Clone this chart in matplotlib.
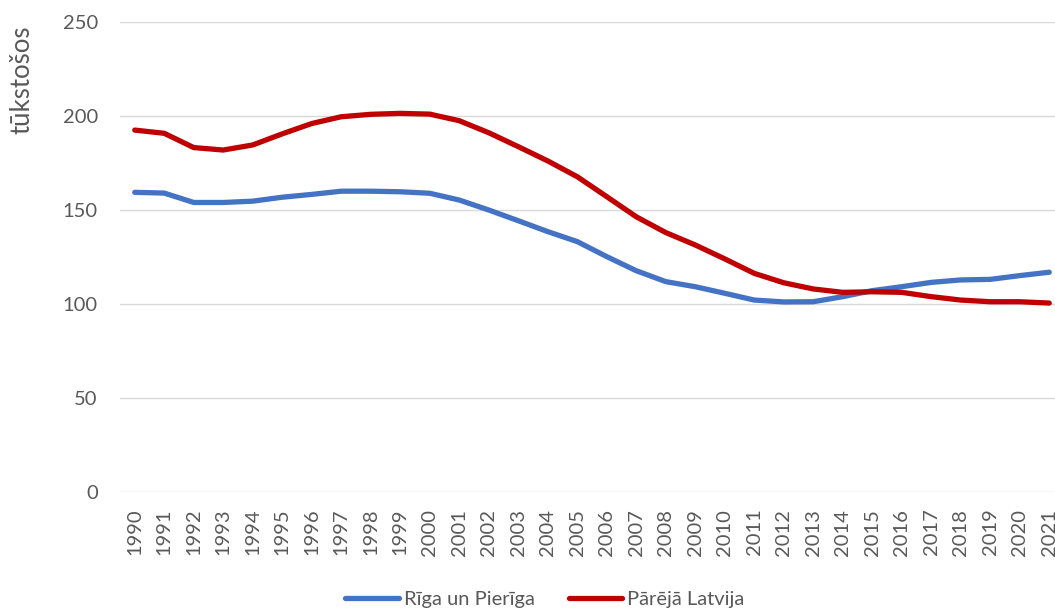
import numpy as np
import matplotlib
matplotlib.use("Agg")
import matplotlib.pyplot as plt

plt.rcParams['font.family'] = ['Lato', 'DejaVu Sans']

years = list(range(1990, 2022))
riga = [159.4, 159.0, 154.0, 154.0, 154.7, 156.8, 158.3, 160.0, 160.0, 159.7,
        158.9, 155.3, 150.0, 144.3, 138.5, 133.2, 125.2, 117.7, 111.9, 109.2,
        105.7, 102.1, 101.1, 101.2, 103.9, 107.1, 109.2, 111.5, 112.8, 113.1,
        115.1, 116.9]
parejā = [192.5, 190.8, 183.2, 181.9, 184.6, 190.5, 196.0, 199.6, 200.9, 201.4,
          201.0, 197.5, 191.1, 183.7, 176.1, 167.7, 157.1, 146.4, 138.0, 131.4,
          124.0, 116.3, 111.3, 108.0, 106.2, 106.5, 106.2, 103.9, 102.1, 101.2,
          101.2, 100.5]
labels = ['Rīga un Pierīga', 'Pārējā Latvija']

W, H = 1055, 612
fig = plt.figure(figsize=(W / 100, H / 100), dpi=100)
# plot area runs past the right edge, as in the original
ax = fig.add_axes([120 / W, (H - 492) / H, 944 / W, 470 / H])

gray = '#595959'
ax.plot(years, riga, color='#4472C4', lw=3.8, solid_capstyle='round', label=labels[0])
ax.plot(years, parejā, color='#C00000', lw=3.8, solid_capstyle='round', label=labels[1])

ax.set_xlim(1989.5, 2021.5)
ax.set_ylim(0, 250)
ax.set_yticks(np.arange(0, 251, 50))
ax.set_xticks(years)
ax.set_xticklabels([str(y) for y in years], rotation=90)
ax.grid(axis='y', color='#D9D9D9', lw=1.0)
ax.set_axisbelow(True)
for s in ax.spines.values():
    s.set_visible(False)
ax.tick_params(axis='y', length=0, pad=16, labelsize=14.5, labelcolor=gray)
ax.tick_params(axis='x', length=0, pad=12, labelsize=14.5, labelcolor=gray)

fig.text(22 / W, 1 - 26 / H, 'tūkstošos', rotation=90, ha='center', va='top',
         fontsize=18.5, color=gray)

fig.legend(loc='center', bbox_to_anchor=(545 / W, 1 - 599 / H), ncol=2, frameon=False,
           fontsize=14.5, labelcolor=gray, handlelength=2.65, handletextpad=0.25,
           columnspacing=1.7)

fig.savefig('out.png', dpi=100)
